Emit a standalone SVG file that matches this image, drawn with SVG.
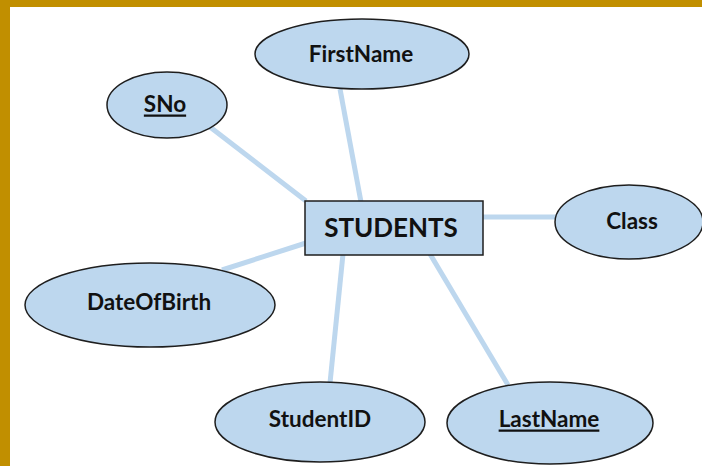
<svg xmlns="http://www.w3.org/2000/svg" width="702" height="466" viewBox="0 0 702 466">
  <style>
    .attr { fill: #BDD7EE; stroke: #1E1E1E; stroke-width: 1.5; }
    .entity { fill: #BDD7EE; stroke: #1E1E1E; stroke-width: 1.5; }
    .lbl { font-family: Lato, "Open Sans", "Liberation Sans", sans-serif; font-weight: bold; font-size: 22.5px; fill: #111; text-anchor: middle; dominant-baseline: central; }
    .key { text-decoration: underline; }
    .title { font-size: 26px; }
    .link { stroke: #BDD7EE; stroke-width: 5; fill: none; }
  </style>

  <!-- page frame -->
  <rect x="0" y="0" width="702" height="466" fill="#FFFFFF"/>
  <rect x="0" y="0" width="702" height="7" fill="#C18F00"/>
  <rect x="0" y="0" width="10" height="466" fill="#C18F00"/>

  <!-- relationship lines between the entity and its attributes -->
  <g id="connectors">
    <line class="link" x1="210" y1="127" x2="306" y2="201"/>
    <line class="link" x1="340" y1="89" x2="361" y2="202"/>
    <line class="link" x1="482" y1="217" x2="556" y2="217"/>
    <line class="link" x1="222" y1="270" x2="306" y2="243"/>
    <line class="link" x1="343" y1="254" x2="330" y2="383"/>
    <line class="link" x1="430" y1="254" x2="508" y2="385"/>
  </g>

  <g id="students">
    <rect class="entity" x="305" y="201" width="178" height="54"/>
    <text class="lbl title" x="391" y="227">STUDENTS</text>
  </g>

  <g id="firstname">
    <ellipse class="attr" cx="362" cy="54" rx="107" ry="35"/>
    <text class="lbl" x="361" y="53">FirstName</text>
  </g>

  <g id="sno">
    <ellipse class="attr" cx="167" cy="105" rx="60" ry="33"/>
    <text class="lbl key" x="165" y="103">SNo</text>
  </g>

  <g id="class">
    <ellipse class="attr" cx="629" cy="222" rx="74" ry="37"/>
    <text class="lbl" x="632" y="220">Class</text>
  </g>

  <g id="dateofbirth">
    <ellipse class="attr" cx="150" cy="305" rx="125" ry="42"/>
    <text class="lbl" x="149" y="301">DateOfBirth</text>
  </g>

  <g id="studentid">
    <ellipse class="attr" cx="320" cy="422" rx="105" ry="40"/>
    <text class="lbl" x="320" y="418">StudentID</text>
  </g>

  <g id="lastname">
    <ellipse class="attr" cx="550" cy="423" rx="103" ry="41"/>
    <text class="lbl key" x="549" y="418">LastName</text>
  </g>
</svg>
